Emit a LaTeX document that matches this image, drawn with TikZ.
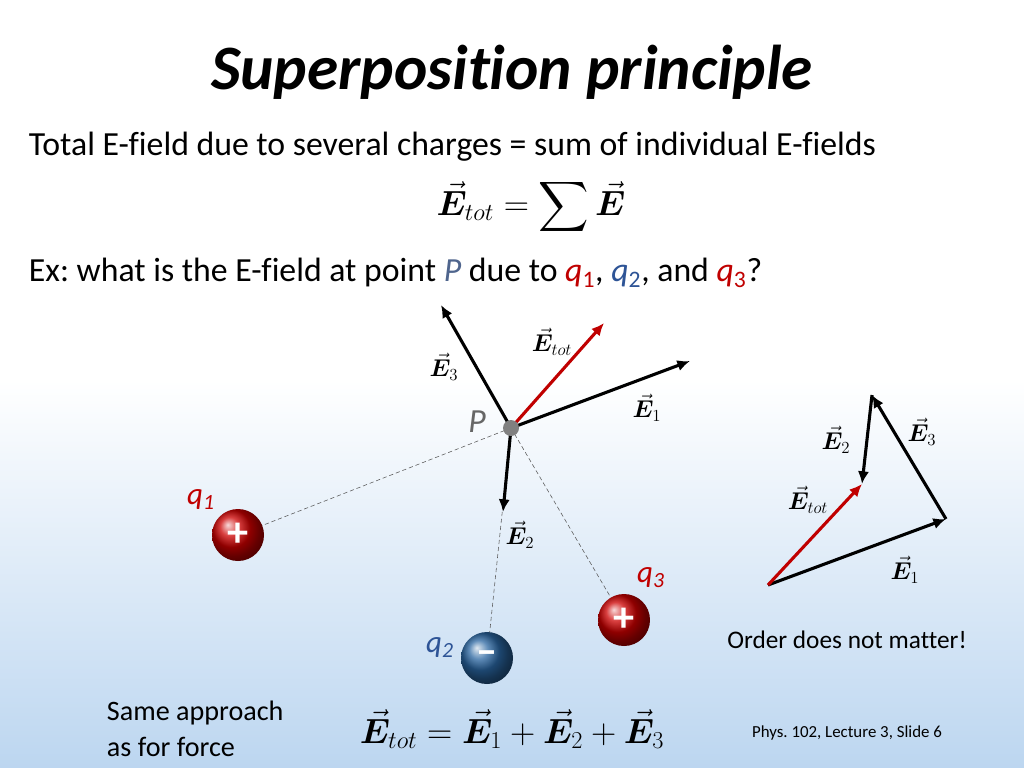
\documentclass[tikz,border=0pt]{standalone}
\usepackage{amsmath}
\usepackage{bm}
\usepackage{fontspec}
\setmainfont{Carlito}[Ligatures={NoCommon}]
\usepackage{tikz}
\usetikzlibrary{arrows.meta}
\definecolor{qred}{RGB}{192,0,0}
\definecolor{qblue}{RGB}{46,84,150}
\definecolor{bgblue}{RGB}{188,214,240}
\newcommand{\Ev}[1]{$\vec{\bm{E}}_{#1}$}
\newcommand{\fs}[1]{\fontsize{#1}{#1}\selectfont}
\frenchspacing
\tikzset{
  vec/.style={line width=2.2pt, -{Latex[length=9pt,width=8pt]}},
  totvec/.style={vec, qred},
  dline/.style={densely dashed, line width=0.4pt, gray!70!black},
  elabel/.style={font=\fs{18}},
  body/.style={font=\fs{24}, anchor=west}
}
\begin{document}
\begin{tikzpicture}[x=0.025cm, y=-0.025cm]
  % background
  \useasboundingbox (0,0) rectangle (1024,768);
  \fill[white] (0,0) rectangle (1024,380);
  \shade[top color=white, bottom color=bgblue] (0,380) rectangle (1024,768);

  % texts
  \node (title) at (512,72) {\fs{45}\bfseries\itshape Superposition principle};
  \node[body] (line1) at (24,147) {Total E-field due to several charges = sum of individual E-fields};
  \node[font=\fs{25}] (sum) at (531,207) {$\displaystyle\vec{\bm{E}}_{tot} = \sum \vec{\bm{E}}$};
  \node[body] (line2) at (24,273) {Ex: what is the E-field at point \textcolor{qblue!60!gray}{\itshape P} due to \textcolor{qred}{\itshape q}\textcolor{qred}{\textsubscript{1}}, \textcolor{qblue}{\itshape q}\textcolor{qblue}{\textsubscript{2}}, and \textcolor{qred}{\itshape q}\textcolor{qred}{\textsubscript{3}}?};

  % charges
  \coordinate (P) at (511,428);
  \coordinate (q1) at (238,535);
  \coordinate (q2) at (487,658);
  \coordinate (q3) at (624,620);
  \draw[dline] (P) -- (q1);
  \draw[dline] (P) -- (q2);
  \draw[dline] (P) -- (q3);
  \shade[ball color=red!80!black] (q1) circle (26);
  \shade[ball color=qblue!90!cyan] (q2) circle (26);
  \shade[ball color=red!80!black] (q3) circle (26);
  \node[white, font=\bfseries\fs{30}] at (q1) {+};
  \node[white, font=\bfseries\fs{30}] at (q2) {--};
  \node[white, font=\bfseries\fs{30}] at (q3) {+};
  \node[qred, font=\fs{22}] (lq1) at (201,500) {\itshape q\textsubscript{1}};
  \node[qblue, font=\fs{22}] (lq2) at (440,648) {\itshape q\textsubscript{2}};
  \node[qred, font=\fs{22}] (lq3) at (651,578) {\itshape q\textsubscript{3}};

  % field vectors at P
  \coordinate (e3) at (441,305);
  \coordinate (et) at (604,323);
  \coordinate (e1) at (690,361);
  \coordinate (e2) at (503,512);
  \draw[vec] (P) -- (e3);
  \draw[totvec] (P) -- (et);
  \draw[vec] (P) -- (e1);
  \draw[vec] (P) -- (e2);
  \fill[gray] (P) circle (8);
  \node[gray!80!black, font=\fs{24}] (lP) at (477,422) {\itshape P};
  \node[elabel] at (552,342) {\Ev{tot}};
  \node[elabel] at (444,367) {\Ev{3}};
  \node[elabel] at (647,408) {\Ev{1}};
  \node[elabel] at (520,535) {\Ev{2}};

  % head to tail
  \coordinate (a) at (768,585);
  \coordinate (b) at (946,519);
  \coordinate (c) at (872,395);
  \coordinate (d) at (862,484);
  \draw[vec] (a) -- (b);
  \draw[vec] (b) -- (c);
  \draw[vec] (c) -- (d);
  \draw[totvec] (a) -- (d);
  \node[elabel] at (836,440) {\Ev{2}};
  \node[elabel] at (922,432) {\Ev{3}};
  \node[elabel] at (808,500) {\Ev{tot}};
  \node[elabel] at (905,570) {\Ev{1}};

  \node[font=\fs{18}] (order) at (847,640) {Order does not matter!};
  \node[font=\fs{20}, align=left, anchor=west] (same) at (102,729) {Same approach\\[6pt]as for force};
  \node[font=\fs{25}] (eq) at (512,729) {$\vec{\bm{E}}_{tot} = \vec{\bm{E}}_1 + \vec{\bm{E}}_2 + \vec{\bm{E}}_3$};
  \node[font=\fs{12}] (slide) at (847,733) {Phys. 102, Lecture 3, Slide 6};
\end{tikzpicture}
\end{document}
